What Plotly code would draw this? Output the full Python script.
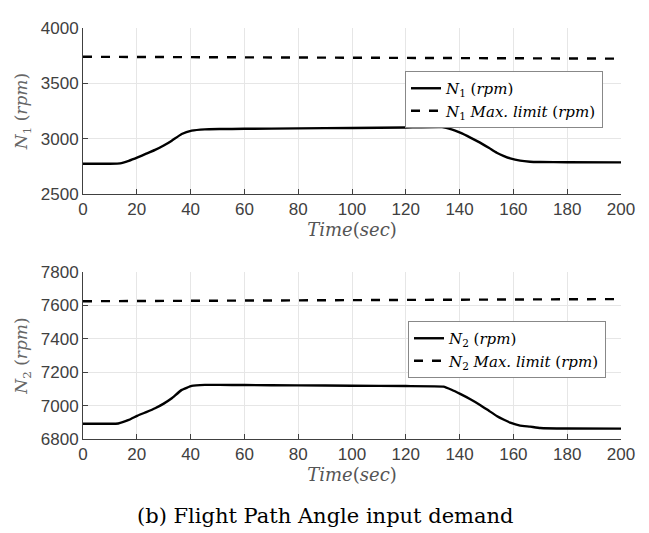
import plotly.graph_objects as go
from plotly.subplots import make_subplots

# ---- data ----
t_n1 = [0, 6, 10, 13.8, 17, 20.3, 23.5, 26.8, 30, 33, 36.7, 40.4, 45.3, 50.7, 60, 80, 100, 120, 133.5, 137, 140.2, 144, 147.6, 151, 153.8, 156.5, 158.8, 162.5, 166.2, 170, 180, 200]
n1 = [2774, 2774, 2774, 2777, 2800, 2831, 2864, 2898, 2938, 2982, 3042, 3072, 3084, 3087, 3089, 3093, 3097, 3101, 3104, 3084, 3054, 3010, 2964, 2915, 2873, 2843, 2822, 2801, 2792, 2789, 2787, 2786]
t_n1lim = [0, 100, 200]
n1_lim = [3740, 3732, 3723]

t_n2 = [0, 6, 10, 13.1, 17, 20.3, 23.5, 26.8, 30, 33, 36.7, 40.4, 45.3, 50.7, 60, 80, 100, 120, 134, 137, 140.2, 144, 147.6, 151, 153.8, 156.5, 158.8, 162.5, 166.2, 170, 180, 200]
n2 = [6891, 6891, 6891, 6893, 6914, 6940, 6961, 6984, 7012, 7044, 7094, 7118, 7124, 7124, 7123, 7121, 7119, 7117, 7114, 7095, 7070, 7038, 7004, 6968, 6938, 6915, 6898, 6880, 6874, 6866, 6863, 6862]
t_n2lim = [0, 100, 200]
n2_lim = [7625, 7631, 7638]

x_ticks = [0, 20, 40, 60, 80, 100, 120, 140, 160, 180, 200]
y1_ticks = [2500, 3000, 3500, 4000]
y2_ticks = [6800, 7000, 7200, 7400, 7600, 7800]

caption = "(b) Flight Path Angle input demand"

W, H = 649, 533
fig = make_subplots(rows=2, cols=1)

serif = "DejaVu Serif"
sans = "Liberation Sans"

fig.add_trace(go.Scatter(x=t_n1, y=n1, mode="lines", line=dict(color="black", width=2.4, shape="spline", smoothing=0.3),
                         name="<i>N</i><sub>1</sub> (<i>rpm</i>)", legend="legend"), row=1, col=1)
fig.add_trace(go.Scatter(x=t_n1lim, y=n1_lim, mode="lines", line=dict(color="black", width=2.4, dash="dash"),
                         name="<i>N</i><sub>1</sub> <i>Max. limit</i> (<i>rpm</i>)", legend="legend"), row=1, col=1)
fig.add_trace(go.Scatter(x=t_n2, y=n2, mode="lines", line=dict(color="black", width=2.4, shape="spline", smoothing=0.3),
                         name="<i>N</i><sub>2</sub> (<i>rpm</i>)", legend="legend2"), row=2, col=1)
fig.add_trace(go.Scatter(x=t_n2lim, y=n2_lim, mode="lines", line=dict(color="black", width=2.4, dash="dash"),
                         name="<i>N</i><sub>2</sub> <i>Max. limit</i> (<i>rpm</i>)", legend="legend2"), row=2, col=1)

xd = [83 / W, 621 / W]
axis_common = dict(showline=True, linecolor="#404040", linewidth=1, mirror=False, automargin=False,
                   showgrid=True, gridcolor="#e6e6e6", gridwidth=1, zeroline=False,
                   ticks="inside", ticklen=5, tickcolor="#404040",
                   tickfont=dict(family=sans, size=17, color="#404040"))

fig.update_xaxes(axis_common)
fig.update_yaxes(axis_common)

xt_font = dict(family=serif, size=18, color="#555555")
yt_font = dict(family=serif, size=17, color="#666666")

fig.update_layout(
    xaxis=dict(domain=xd, range=[0, 200], tickvals=x_ticks, anchor="y",
               title=dict(text="<i>Time</i>(<i>sec</i>)", font=xt_font, standoff=4)),
    xaxis2=dict(domain=xd, range=[0, 200], tickvals=x_ticks, anchor="y2",
                title=dict(text="<i>Time</i>(<i>sec</i>)", font=xt_font, standoff=4)),
    yaxis=dict(domain=[1 - 194 / H, 1 - 28 / H], range=[2500, 4000], tickvals=y1_ticks,
               title=dict(text="<i>N</i><sub>1</sub> (<i>rpm</i>)", font=yt_font, standoff=8)),
    yaxis2=dict(domain=[1 - 439 / H, 1 - 272 / H], range=[6800, 7800], tickvals=y2_ticks,
                title=dict(text="<i>N</i><sub>2</sub> (<i>rpm</i>)", font=yt_font, standoff=8)),
    legend=dict(x=405 / W, y=1 - 71 / H, xanchor="left", yanchor="top", bgcolor="white",
                bordercolor="#888888", borderwidth=1, font=dict(family=serif, size=15, color="black"),
                itemwidth=30, tracegroupgap=0),
    legend2=dict(x=408 / W, y=1 - 321 / H, xanchor="left", yanchor="top", bgcolor="white",
                 bordercolor="#888888", borderwidth=1, font=dict(family=serif, size=15, color="black"),
                 itemwidth=30, tracegroupgap=0),
    width=W, height=H, margin=dict(l=0, r=0, t=0, b=0),
    paper_bgcolor="white", plot_bgcolor="white", showlegend=True,
)

fig.add_annotation(text=caption, x=0.5, y=1 - 516 / H, xref="paper", yref="paper",
                   showarrow=False, font=dict(family=serif, size=21, color="black"), xanchor="center", yanchor="middle")

fig.write_html("out.html")
